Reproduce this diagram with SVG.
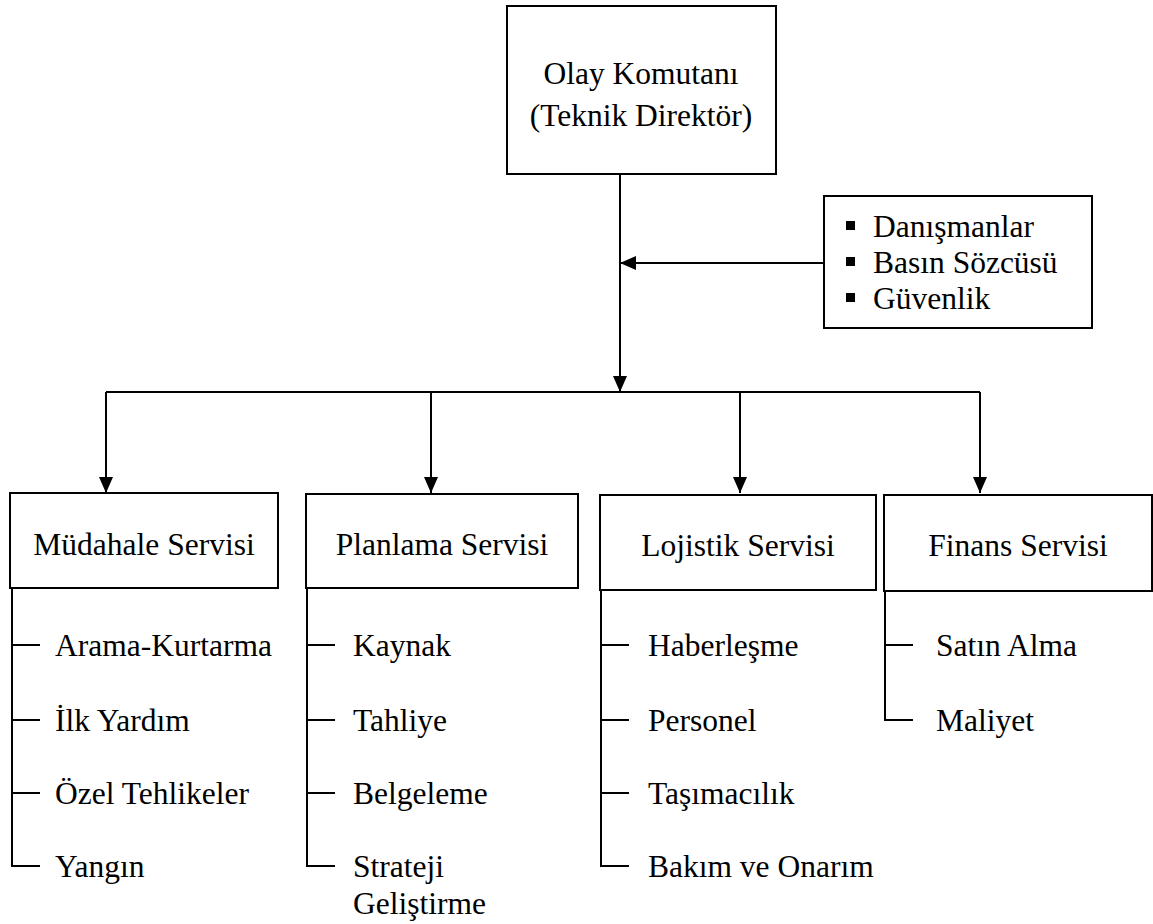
<svg xmlns="http://www.w3.org/2000/svg" width="1153" height="924" viewBox="0 0 1153 924">
  <defs>
    <marker id="arrow" viewBox="0 0 16 14" refX="16" refY="7" markerWidth="16" markerHeight="14" markerUnits="userSpaceOnUse" orient="auto">
      <path d="M0,0 L16,7 L0,14 Z" fill="#000"/>
    </marker>
  </defs>
  <rect width="1153" height="924" fill="#fff"/>

  <!-- connectors -->
  <g id="connectors" fill="none" stroke="#000" stroke-width="2">
    <line x1="620" y1="174" x2="620" y2="392" marker-end="url(#arrow)"/>
    <line x1="824" y1="263" x2="620" y2="263" marker-end="url(#arrow)"/>
    <line x1="106" y1="392" x2="980" y2="392"/>
    <line x1="106" y1="392" x2="106" y2="493" marker-end="url(#arrow)"/>
    <line x1="431" y1="392" x2="431" y2="493" marker-end="url(#arrow)"/>
    <line x1="740" y1="392" x2="740" y2="493" marker-end="url(#arrow)"/>
    <line x1="980" y1="392" x2="980" y2="493" marker-end="url(#arrow)"/>
  </g>

  <!-- boxes -->
  <g fill="#fff" stroke="#000" stroke-width="2">
    <rect id="commander-box" x="507" y="6" width="269" height="168"/>
    <rect id="staff-box" x="824" y="196" width="268" height="132"/>
    <rect id="mudahale-box" x="10" y="493" width="268" height="95"/>
    <rect id="planlama-box" x="306" y="494" width="272" height="94"/>
    <rect id="lojistik-box" x="600" y="495" width="276" height="95"/>
    <rect id="finans-box" x="884" y="495" width="268" height="96"/>
  </g>

  <!-- list branches -->
  <g fill="none" stroke="#000" stroke-width="2">
    <path d="M12,588 V866 H40 M12,645 H40 M12,720 H40 M12,793 H40"/>
    <path d="M307,588 V866 H335 M307,645 H335 M307,720 H335 M307,793 H335"/>
    <path d="M601,590 V866 H629 M601,645 H629 M601,720 H629 M601,793 H629"/>
    <path d="M885,591 V720 H913 M885,645 H913"/>
  </g>

  <g id="commander">
    <text x="641" y="84" text-anchor="middle" font-family="Liberation Serif" font-size="31.5">Olay Komutanı</text>
    <text x="641" y="126" text-anchor="middle" font-family="Liberation Serif" font-size="31.5">(Teknik Direktör)</text>
  </g>

  <g id="staff">
    <rect x="846" y="221" width="9" height="9" fill="#000"/>
    <rect x="846" y="257" width="9" height="9" fill="#000"/>
    <rect x="846" y="293" width="9" height="9" fill="#000"/>
    <text x="873" y="237" font-family="Liberation Serif" font-size="31.5">Danışmanlar</text>
    <text x="873" y="273" font-family="Liberation Serif" font-size="31.5">Basın Sözcüsü</text>
    <text x="873" y="309" font-family="Liberation Serif" font-size="31.5">Güvenlik</text>
  </g>

  <g id="mudahale">
    <text x="144" y="555" text-anchor="middle" font-family="Liberation Serif" font-size="31.5">Müdahale Servisi</text>
    <text x="55" y="656" font-family="Liberation Serif" font-size="31.5">Arama-Kurtarma</text>
    <text x="55" y="731" font-family="Liberation Serif" font-size="31.5">İlk Yardım</text>
    <text x="55" y="804" font-family="Liberation Serif" font-size="31.5">Özel Tehlikeler</text>
    <text x="55" y="877" font-family="Liberation Serif" font-size="31.5">Yangın</text>
  </g>

  <g id="planlama">
    <text x="442" y="555" text-anchor="middle" font-family="Liberation Serif" font-size="31.5">Planlama Servisi</text>
    <text x="353" y="656" font-family="Liberation Serif" font-size="31.5">Kaynak</text>
    <text x="353" y="731" font-family="Liberation Serif" font-size="31.5">Tahliye</text>
    <text x="353" y="804" font-family="Liberation Serif" font-size="31.5">Belgeleme</text>
    <text x="353" y="877" font-family="Liberation Serif" font-size="31.5">Strateji</text>
    <text x="353" y="914" font-family="Liberation Serif" font-size="31.5">Geliştirme</text>
  </g>

  <g id="lojistik">
    <text x="738" y="556" text-anchor="middle" font-family="Liberation Serif" font-size="31.5">Lojistik Servisi</text>
    <text x="648" y="656" font-family="Liberation Serif" font-size="31.5">Haberleşme</text>
    <text x="648" y="731" font-family="Liberation Serif" font-size="31.5">Personel</text>
    <text x="648" y="804" font-family="Liberation Serif" font-size="31.5">Taşımacılık</text>
    <text x="648" y="877" font-family="Liberation Serif" font-size="31.5">Bakım ve Onarım</text>
  </g>

  <g id="finans">
    <text x="1018" y="556" text-anchor="middle" font-family="Liberation Serif" font-size="31.5">Finans Servisi</text>
    <text x="936" y="656" font-family="Liberation Serif" font-size="31.5">Satın Alma</text>
    <text x="936" y="731" font-family="Liberation Serif" font-size="31.5">Maliyet</text>
  </g>
</svg>
